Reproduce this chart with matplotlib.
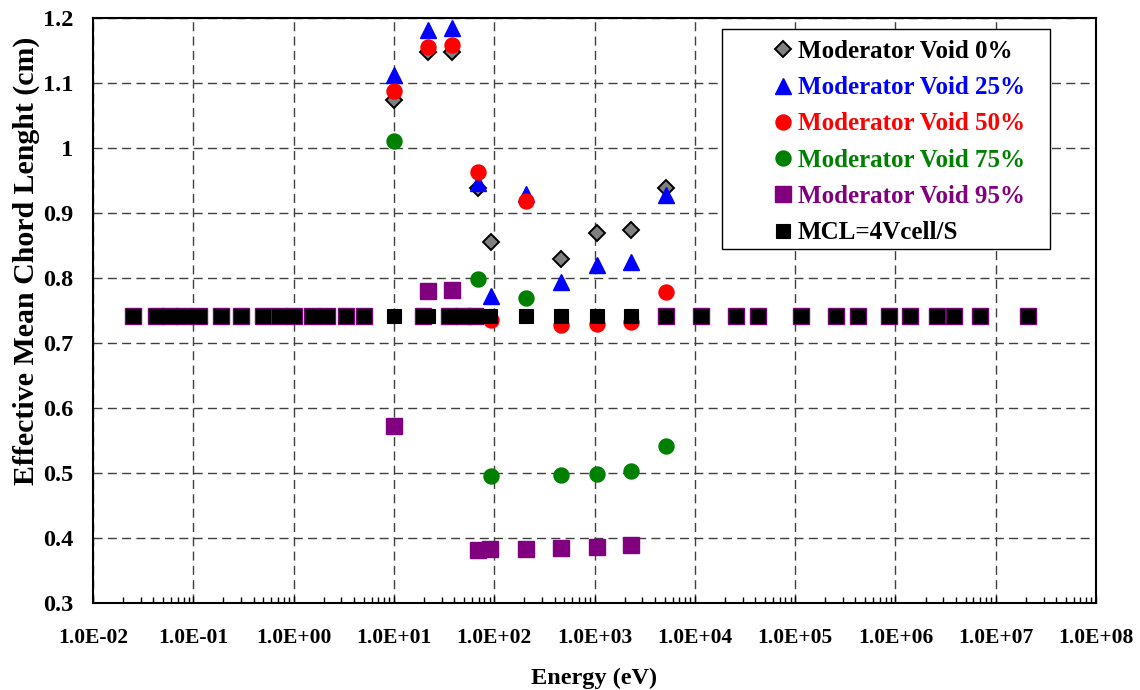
import numpy as np
import matplotlib
matplotlib.use("Agg")
import matplotlib.pyplot as plt
from matplotlib.ticker import FixedLocator, FuncFormatter, LogLocator, NullFormatter
from matplotlib.patches import Rectangle

# Energy grid (eV) shared by the reference MCL line and the 95% void case
energy_grid = [0.025, 0.0424, 0.0589, 0.0813, 0.115, 0.189, 0.302, 0.493, 0.713,
               1.02, 1.51, 2.17, 3.31, 5.05, 10.07, 19.4, 21.7, 35.7, 38.0, 48.6,
               65.0, 69.7, 91.8, 209.0, 468.0, 1047.0, 2307.0, 5129.0, 11480.0,
               25700.0, 42360.0, 114800.0, 257000.0, 426600.0, 865000.0,
               1.40e6, 2.57e6, 3.86e6, 7.03e6, 2.09e7]

mcl_value = 0.741
mcl = [mcl_value] * len(energy_grid)

void95 = [0.741, 0.741, 0.741, 0.741, 0.741, 0.741, 0.741, 0.741, 0.741,
          0.741, 0.741, 0.741, 0.741, 0.741, 0.573, 0.741, 0.780, 0.741, 0.782, 0.741,
          0.741, 0.3815, 0.383, 0.3835, 0.385, 0.3866, 0.389, 0.741, 0.741,
          0.741, 0.741, 0.741, 0.741, 0.741, 0.741,
          0.741, 0.741, 0.741, 0.741, 0.741]

# Resonance-region energies (eV) for the other void fractions
energy_res = [10.07, 21.7, 38.0, 69.7, 93.0, 209.0, 468.0, 1047.0, 2307.0, 5129.0]
void0 = [1.074, 1.147, 1.147, 0.939, 0.855, np.nan, 0.829, 0.869, 0.874, 0.938]
void25 = [1.112, 1.182, 1.184, 0.946, 0.772, 0.930, 0.794, 0.820, 0.825, 0.928]
void50 = [1.087, 1.156, 1.158, 0.963, 0.735, 0.918, 0.728, 0.730, 0.733, 0.778]
void75 = [1.011, np.nan, np.nan, 0.798, 0.495, 0.769, 0.497, 0.498, 0.503, 0.542]

labels = ["Moderator Void 0%", "Moderator Void 25%", "Moderator Void 50%",
          "Moderator Void 75%", "Moderator Void 95%", "MCL=4Vcell/S"]
label_colors = ["black", "#0000FF", "#FF0000", "#008000", "#800080", "black"]

plt.rcParams["font.family"] = ["Liberation Serif", "DejaVu Serif"]
plt.rcParams["font.weight"] = "bold"

fig = plt.figure(figsize=(11.4, 6.9), dpi=100)
ax = fig.add_axes([93 / 1140, 87 / 690, 1003 / 1140, 585 / 690])

h0, = ax.plot(energy_res, void0, ls="none", marker="D", ms=8.2, mfc="#808080",
              mec="black", mew=1.4, zorder=3)
h25, = ax.plot(energy_res, void25, ls="none", marker="^", ms=12, mfc="#0000FF",
               mec="#0000FF", zorder=4)
h50, = ax.plot(energy_res, void50, ls="none", marker="o", ms=10.8, mfc="#FF0000",
               mec="#FF0000", zorder=5)
h75, = ax.plot(energy_res, void75, ls="none", marker="o", ms=10.8, mfc="#008000",
               mec="#008000", zorder=6)
h95, = ax.plot(energy_grid, void95, ls="none", marker="s", ms=11, mfc="#800080",
               mec="#800080", zorder=7)
hm, = ax.plot(energy_grid, mcl, ls="none", marker="s", ms=10.2, mfc="black",
              mec="black", mew=0.8, zorder=8)

ax.set_xscale("log")
ax.set_xlim(1e-2, 1e8)
ax.set_ylim(0.3, 1.2)

ax.xaxis.set_major_locator(FixedLocator([10.0 ** k for k in range(-2, 9)]))
ax.xaxis.set_major_formatter(FuncFormatter(lambda v, p: f"{v:.1E}"))
ax.xaxis.set_minor_locator(LogLocator(base=10, subs=np.arange(2, 10), numticks=100))
ax.xaxis.set_minor_formatter(NullFormatter())
ax.yaxis.set_major_locator(FixedLocator(np.round(np.arange(0.3, 1.21, 0.1), 1)))
ax.yaxis.set_major_formatter(FuncFormatter(lambda v, p: f"{v:g}"))

ax.tick_params(axis="x", which="major", direction="in", length=5, width=1,
               labelsize=15.5, pad=18)
ax.tick_params(axis="x", which="minor", direction="in", length=4, width=1)
ax.tick_params(axis="y", which="major", length=0, labelsize=17.5, pad=14)
for lab in ax.get_xticklabels() + ax.get_yticklabels():
    lab.set_fontweight("bold")

ax.grid(True, which="major", color="#404040", lw=1.0, ls=(0, (6.5, 3.8)), zorder=1)
ax.set_axisbelow(True)
for sp in ax.spines.values():
    sp.set_linewidth(1.5)
    sp.set_color("black")

ax.set_xlabel("Energy (eV)", fontsize=17.5, fontweight="bold", labelpad=14)
ax.set_ylabel("Effective Mean Chord Lenght (cm)", fontsize=21.5, fontweight="bold")
ax.yaxis.set_label_coords((40 - 93) / 1003, (603 - 261) / 585)

# Legend box drawn as a patch so the entries can sit offset inside it
x0, x1 = (722 - 93) / 1003, (1050 - 93) / 1003
y0, y1 = (603 - 249) / 585, (603 - 29) / 585
ax.add_patch(Rectangle((x0, y0), x1 - x0, y1 - y0, transform=ax.transAxes,
                       facecolor="white", edgecolor="black", lw=1.0, zorder=9))

leg = ax.legend([h0, h25, h50, h75, h95, hm], labels, loc="upper left",
                bbox_to_anchor=((773 - 93) / 1003, (603 - 40) / 585),
                frameon=False, numpoints=1, handlelength=0.8,
                handletextpad=0.18, labelspacing=0.53, borderpad=0, borderaxespad=0,
                prop={"weight": "bold", "size": 18})
leg.set_zorder(10)
for txt, c in zip(leg.get_texts(), label_colors):
    txt.set_color(c)

fig.savefig("out.png", dpi=100)
